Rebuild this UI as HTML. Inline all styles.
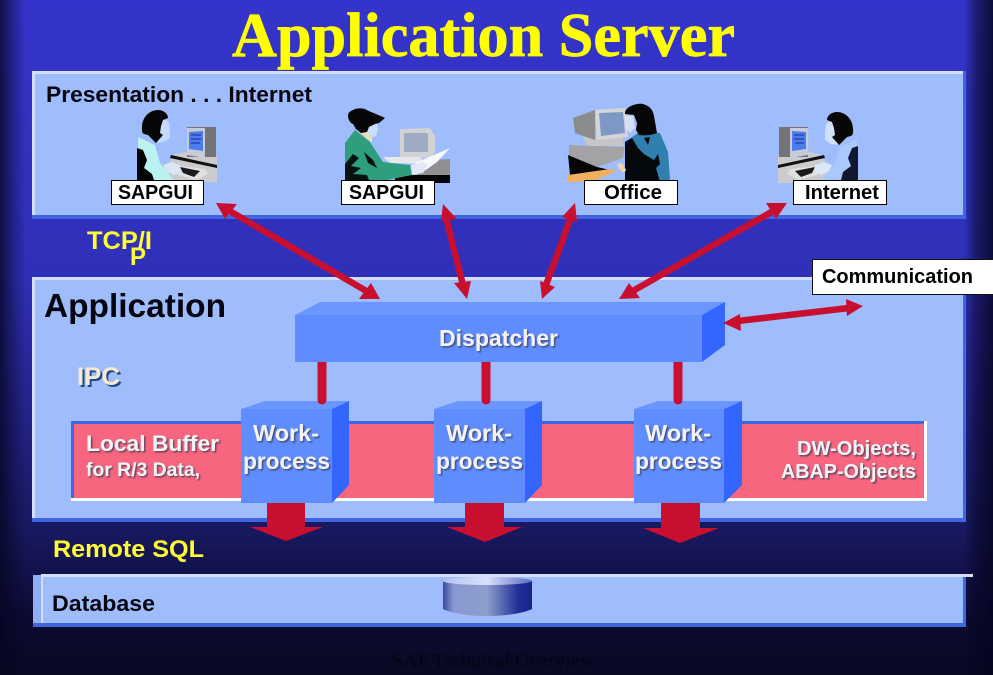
<!DOCTYPE html>
<html><head><meta charset="utf-8"><style>
html,body{margin:0;padding:0;width:993px;height:675px;overflow:hidden;background:#0a0a28}
svg{display:block}
text{font-family:"Liberation Sans",sans-serif;font-weight:bold}
</style></head><body>
<svg width="993" height="675" viewBox="0 0 993 675" xmlns="http://www.w3.org/2000/svg">
<defs>
<linearGradient id="bg" x1="0" y1="0" x2="0" y2="1">
<stop offset="0" stop-color="#3434cc"/><stop offset=".41" stop-color="#2f2fb8"/><stop offset=".79" stop-color="#18185f"/><stop offset=".92" stop-color="#0a0a30"/><stop offset="1" stop-color="#090924"/>
</linearGradient>
<linearGradient id="edgeL" x1="0" y1="0" x2="1" y2="0"><stop offset="0" stop-color="#050520" stop-opacity=".78"/><stop offset=".5" stop-color="#050520" stop-opacity=".35"/><stop offset="1" stop-color="#050520" stop-opacity="0"/></linearGradient>
<linearGradient id="edgeR" x1="0" y1="0" x2="1" y2="0"><stop offset="0" stop-color="#050520" stop-opacity="0"/><stop offset=".4" stop-color="#050520" stop-opacity=".5"/><stop offset="1" stop-color="#050520" stop-opacity=".85"/></linearGradient>
<linearGradient id="cyl" x1="0" y1="0" x2="1" y2="0"><stop offset="0" stop-color="#3a4a9e"/><stop offset=".12" stop-color="#8a9ad0"/><stop offset=".5" stop-color="#8c9ccc"/><stop offset=".85" stop-color="#1f2f95"/><stop offset="1" stop-color="#14248a"/></linearGradient>
<linearGradient id="cylTop" x1="0" y1="0" x2="1" y2="0"><stop offset="0" stop-color="#b9c4ee"/><stop offset=".5" stop-color="#d8dffa"/><stop offset="1" stop-color="#5a6ac0"/></linearGradient>
<filter id="sh" x="-10%" y="-20%" width="125%" height="150%"><feDropShadow dx="1.5" dy="1.5" stdDeviation=".7" flood-color="#3a3a55" flood-opacity=".75"/></filter>
<filter id="shb" x="-10%" y="-20%" width="125%" height="150%"><feDropShadow dx="2" dy="2" stdDeviation=".3" flood-color="#1f4a90"/></filter>
</defs>

<rect width="993" height="675" fill="url(#bg)"/>
<rect x="0" y="0" width="26" height="675" fill="url(#edgeL)"/>
<rect x="964" y="0" width="29" height="675" fill="url(#edgeR)"/>

<text x="232" y="56" textLength="503" lengthAdjust="spacingAndGlyphs" font-size="62" fill="#ffff00" stroke="#ffff00" stroke-width=".7" style="font-family:'Liberation Serif',serif">Application Server</text>

<!-- Presentation panel -->
<rect x="32" y="71" width="934" height="148" fill="#3f66e0"/>
<rect x="32" y="71" width="931" height="144" fill="#d3dff9"/>
<rect x="35" y="74" width="928" height="141" fill="#9fbdfc"/>
<text x="46" y="102" textLength="266" lengthAdjust="spacingAndGlyphs" font-size="22.500" fill="#050510">Presentation . . . Internet</text>

<!-- Person 1 -->
<g id="p1">
<polygon points="172,155 195,150 217,156 217,182 165,182" fill="#cbcbcd"/>
<rect x="187" y="127" width="29" height="30" fill="#737378"/>
<polygon points="187,128 205,128 205,158 187,155" fill="#c5ccd8"/>
<polygon points="189,132 203,131 203,151 189,149" fill="#4d7cf0"/>
<path d="M191 135h10M191 139h10M191 143h9" stroke="#1a2f88" stroke-width="1"/>
<polygon points="171,155 217,165 217,168 170,158" fill="#111"/>
<polygon points="172,165 205,169 208,174 196,180 178,175" fill="#e0e0e2"/>
<polygon points="180,167 200,171 194,177 183,173" fill="#1b1b1b"/>
<path d="M138 137l17 8 5 18 12 15 5 4H138z" fill="#baf1f1"/>
<path d="M137 180v-32l6 2 4 10-3 8 8 6 2 6z" fill="#050505"/>
<path d="M163 165l8-3 9 3 1 6-7 4-8-4z" fill="#dbe6f5"/>
<path d="M163 118l6 4 1 8v8l-6 4-7 1 1-13z" fill="#c6d8fc"/>
<path d="M142 130c-1-12 7-20 16-20 6 0 10 4 10 8l-5 2-2 6-1 7 3 2-7 8-5-5-3-3c-4-1-6-1-6-5z" fill="#070707"/>
</g>

<!-- Person 2 -->
<g>
<polygon points="430,160 450,159 450,183 410,183" fill="#8f8f92"/>
<rect x="395" y="175" width="55" height="8" fill="#050505"/>
<path d="M400 129l30-1 5 8v16l-5 6h-30z" fill="#d0d2d6"/>
<rect x="404" y="133" width="24" height="19" rx="2" fill="#9eabc0"/>
<polygon points="383,157 420,157 425,164 390,163" fill="#e8e8ea"/>
<polygon points="415,163 450,148 437,162 423,172" fill="#f7f8fb"/>
<polygon points="345,180 345,143 355,130 370,142 383,162 410,165 412,175 387,180" fill="#2f9e7e"/>
<path d="M345 180v-16l8-10 6 4-8 8 10 2-8 6 14 1 2 5zM364 152l9 8 4 8-9-5z" fill="#07110f"/>
<path d="M411 165l12-3 5 3-5 8-11 2z" fill="#e2e8f5"/>
<polygon points="357,130 362,129 372,136 372,143" fill="#e8e4a8"/>
<path d="M366 122l11-3 1 10-2 7-5 2-5-7z" fill="#ccdcfb"/>
<path d="M348 116c0-4 3-5 5-6 3-2 8-2 12-1 5 3 12 5 20 9l-6 5-4 1-6 3-2 5-6 1-5-4-3-5c-3-1-5-5-5-8z" fill="#060606"/>
</g>

<!-- Person 3 -->
<g>
<polygon points="569,145 625,147 623,158 597,167 569,155" fill="#a3a3a6"/>
<polygon points="568,155 597,167 610,170 570,175" fill="#050505"/>
<polygon points="568,175 610,169 617,171 593,181 568,182" fill="#f1b060"/>
<polygon points="583,137 623,137 623,146 588,146" fill="#c6c6c9"/>
<polygon points="573,118 595,110 595,140 575,133" fill="#8b8b8e"/>
<polygon points="595,110 625,108 628,137 597,140" fill="#d4d5d8"/>
<polygon points="599,113 623,112 625,133 601,136" fill="#7e98c6"/>
<path d="M625 142l13-9 22 0 8 19 2 28h-45z" fill="#2f80ae"/>
<path d="M625 182v-40l7-4 6 10 6 6 10 6 4-6 2 10-4 4 4 14zM644 138l6-1-2 8z" fill="#05090d"/>
<path d="M617 164l5-1 4 7-2 3-5-4z" fill="#ecd4ac"/>
<path d="M625 115l8 1 2 12-5 5-5-6z" fill="#d5e0f8"/>
<path d="M625 112c2-6 11-9 18-8 7 2 10 6 11 12l3 17c-5 2-12 3-18 2l-3-5 1-7-3-8-9-1z" fill="#060606"/>
</g>

<!-- Person 4 (mirrored) -->
<g transform="translate(995 0) scale(-1 1)">
<polygon points="172,155 195,150 217,156 217,183 165,183" fill="#cbcbcd"/>
<rect x="187" y="127" width="29" height="30" fill="#737378"/>
<polygon points="187,128 205,128 205,158 187,155" fill="#c5ccd8"/>
<polygon points="189,132 203,131 203,151 189,149" fill="#4d7cf0"/>
<path d="M191 135h10M191 139h10M191 143h9" stroke="#1a2f88" stroke-width="1"/>
<polygon points="171,155 217,165 217,168 170,158" fill="#111"/>
<polygon points="172,165 205,169 208,174 196,180 178,175" fill="#e0e0e2"/>
<polygon points="180,167 200,171 194,177 183,173" fill="#1b1b1b"/>
<path d="M138 139l17 8 5 16 12 15 5 4H138z" fill="#a9c8fb"/>
<path d="M137 180v-34l6 2 4 10-3 8 8 6 2 8z" fill="#101830"/>
<path d="M163 165l8-3 9 3 1 6-7 4-8-4z" fill="#dbe6f7"/>
<path d="M163 120l6 4 1 8v8l-6 4-7 1 1-13z" fill="#cfe0fc"/>
<path d="M142 132c-1-12 7-20 16-20 6 0 10 4 10 8l-5 2-2 6-1 7 3 2-7 8-5-5-3-3c-4-1-6-1-6-5z" fill="#070707"/>
</g>

<g stroke="#000" stroke-width="1" fill="#fff">
<rect x="111.500" y="180.500" width="92" height="24"/>
<rect x="341.500" y="180.500" width="93" height="24"/>
<rect x="584.500" y="180.500" width="93" height="24"/>
<rect x="793.500" y="180.500" width="93" height="24"/>
</g>
<g font-size="20" fill="#000">
<text x="118" y="199" textLength="75" lengthAdjust="spacingAndGlyphs">SAPGUI</text>
<text x="349" y="199" textLength="75" lengthAdjust="spacingAndGlyphs">SAPGUI</text>
<text x="604" y="199" textLength="58" lengthAdjust="spacingAndGlyphs">Office</text>
<text x="805" y="199" textLength="74" lengthAdjust="spacingAndGlyphs">Internet</text>
</g>

<text x="87" y="249" textLength="65" lengthAdjust="spacingAndGlyphs" font-size="25" fill="#ffff33">TCP/I</text>
<text x="130" y="265" textLength="16" lengthAdjust="spacingAndGlyphs" font-size="25" fill="#ffff33">P</text>

<!-- Application panel -->
<rect x="32" y="277" width="934" height="245" fill="#3f66e0"/>
<rect x="32" y="277" width="931" height="241" fill="#d3dff9"/>
<rect x="35" y="280" width="928" height="238" fill="#9fbdfc"/>
<text x="44" y="317" textLength="182" lengthAdjust="spacingAndGlyphs" font-size="33" fill="#050510">Application</text>
<text x="77" y="385" textLength="43" lengthAdjust="spacingAndGlyphs" font-size="25" fill="#f6ead0" filter="url(#shb)">IPC</text>

<!-- Communication -->
<rect x="812.500" y="259.500" width="181" height="35" fill="#fff" stroke="#111" stroke-width="1"/>
<text x="822" y="283" textLength="151" lengthAdjust="spacingAndGlyphs" font-size="20" fill="#000">Communication</text>

<!-- Pink buffer -->
<rect x="71" y="421" width="856" height="80" fill="#fff"/>
<rect x="71" y="421" width="853" height="77" fill="#3f66e0"/>
<rect x="74" y="424" width="850" height="74" fill="#f7657f"/>
<g fill="#f4f4f6" filter="url(#sh)">
<text x="86" y="451" textLength="133" lengthAdjust="spacingAndGlyphs" font-size="22.500">Local Buffer</text>
<text x="86" y="476" textLength="114" lengthAdjust="spacingAndGlyphs" font-size="19.500">for R/3 Data,</text>
<text x="797" y="455" textLength="119" lengthAdjust="spacingAndGlyphs" font-size="20.500">DW-Objects,</text>
<text x="781" y="478" textLength="135" lengthAdjust="spacingAndGlyphs" font-size="20.500">ABAP-Objects</text>
</g>

<!-- Dispatcher -->
<polygon points="295,315 320,302 725,302 702,315" fill="#6c96ff"/>
<rect x="295" y="315" width="407" height="47" fill="#5f8cff"/>
<polygon points="702,315 725,302 725,345 702,362" fill="#3366ff"/>
<text x="439" y="346" textLength="119" lengthAdjust="spacingAndGlyphs" font-size="23" fill="#f4f4f8" filter="url(#sh)">Dispatcher</text>

<!-- Work processes -->
<polygon points="241,409 265,401 349,401 332,409" fill="#6c96ff"/>
<rect x="241" y="409" width="91" height="94" fill="#5f8cff"/>
<polygon points="332,409 349,401 349,485 332,503" fill="#3366ff"/>
<polygon points="434,409 458,401 542,401 525,409" fill="#6c96ff"/>
<rect x="434" y="409" width="91" height="94" fill="#5f8cff"/>
<polygon points="525,409 542,401 542,485 525,503" fill="#3366ff"/>
<polygon points="634,409 658,401 742,401 724,409" fill="#6c96ff"/>
<rect x="634" y="409" width="90" height="94" fill="#5f8cff"/>
<polygon points="724,409 742,401 742,485 724,503" fill="#3366ff"/>
<g font-size="23.500" fill="#f4f4f8" filter="url(#sh)">
<text x="253" y="441" textLength="66" lengthAdjust="spacingAndGlyphs">Work-</text>
<text x="243" y="469" textLength="87" lengthAdjust="spacingAndGlyphs">process</text>
<text x="446" y="441" textLength="66" lengthAdjust="spacingAndGlyphs">Work-</text>
<text x="436" y="469" textLength="87" lengthAdjust="spacingAndGlyphs">process</text>
<text x="645" y="441" textLength="66" lengthAdjust="spacingAndGlyphs">Work-</text>
<text x="635" y="469" textLength="87" lengthAdjust="spacingAndGlyphs">process</text>
</g>

<!-- Connectors (drawn over cube tops, rounded end) -->
<g fill="#c90f30">
<path d="M317.500 362h9v38a4.500 4.500 0 0 1-9 0z"/>
<path d="M481.500 362h9v38a4.500 4.500 0 0 1-9 0z"/>
<path d="M673.500 362h9v38a4.500 4.500 0 0 1-9 0z"/>
</g>

<!-- Big down arrows -->
<g fill="#c90f30">
<polygon points="267,503 305,503 305,527 323,527 286,541 250,527 267,527"/>
<polygon points="465,503 504,503 504,527 522,527 485,542 447,527 465,527"/>
<polygon points="661,503 700,503 700,528 719,528 680,543 643,528 661,528"/>
</g>

<!-- Double arrows -->
<g stroke="#c90f30" stroke-width="6.500" fill="none">
<line x1="228" y1="210" x2="368" y2="292"/>
<line x1="446" y1="218" x2="463" y2="285"/>
<line x1="571" y1="217" x2="546" y2="285"/>
<line x1="775" y1="210" x2="631" y2="292"/>
<line x1="738" y1="321" x2="849" y2="308"/>
</g>
<g fill="#c90f30">
<polygon points="216,203 237,204 225,219"/>
<polygon points="380,299 359,299 371,283"/>
<polygon points="443,204 457,219 441,221"/>
<polygon points="467,299 454,283 471,281"/>
<polygon points="575,203 577,222 562,217"/>
<polygon points="542,299 540,281 555,287"/>
<polygon points="787,203 776,219 766,203"/>
<polygon points="619,299 629,283 640,298"/>
<polygon points="723,323 740,314 741,331"/>
<polygon points="863,306 846,299 847,316"/>
</g>

<text x="53" y="557" textLength="151" lengthAdjust="spacingAndGlyphs" font-size="24" fill="#ffff33">Remote SQL</text>

<!-- Database panel -->
<rect x="33" y="575" width="930" height="50" fill="#9fbdfc"/>
<rect x="33" y="575" width="8" height="48" fill="#90aef4"/>
<rect x="41" y="574" width="932" height="3" fill="#d3dff9"/>
<rect x="41" y="577" width="2" height="46" fill="#d3dff9"/>
<rect x="33" y="623" width="933" height="4" fill="#3f66e0"/>
<rect x="963" y="577" width="3" height="50" fill="#3f66e0"/>
<text x="52" y="611" textLength="103" lengthAdjust="spacingAndGlyphs" font-size="22" fill="#050510">Database</text>
<path d="M443 581v28c6 3 20 7 44 7s39-4 45-7v-28z" fill="url(#cyl)"/>
<ellipse cx="487.500" cy="581" rx="44.500" ry="4" fill="url(#cylTop)"/>

<text x="392" y="667" textLength="202" lengthAdjust="spacingAndGlyphs" font-size="20" fill="#050512" style="font-family:'Liberation Serif',serif;font-weight:normal">SAP Technical Overview</text>
</svg>
</body></html>
